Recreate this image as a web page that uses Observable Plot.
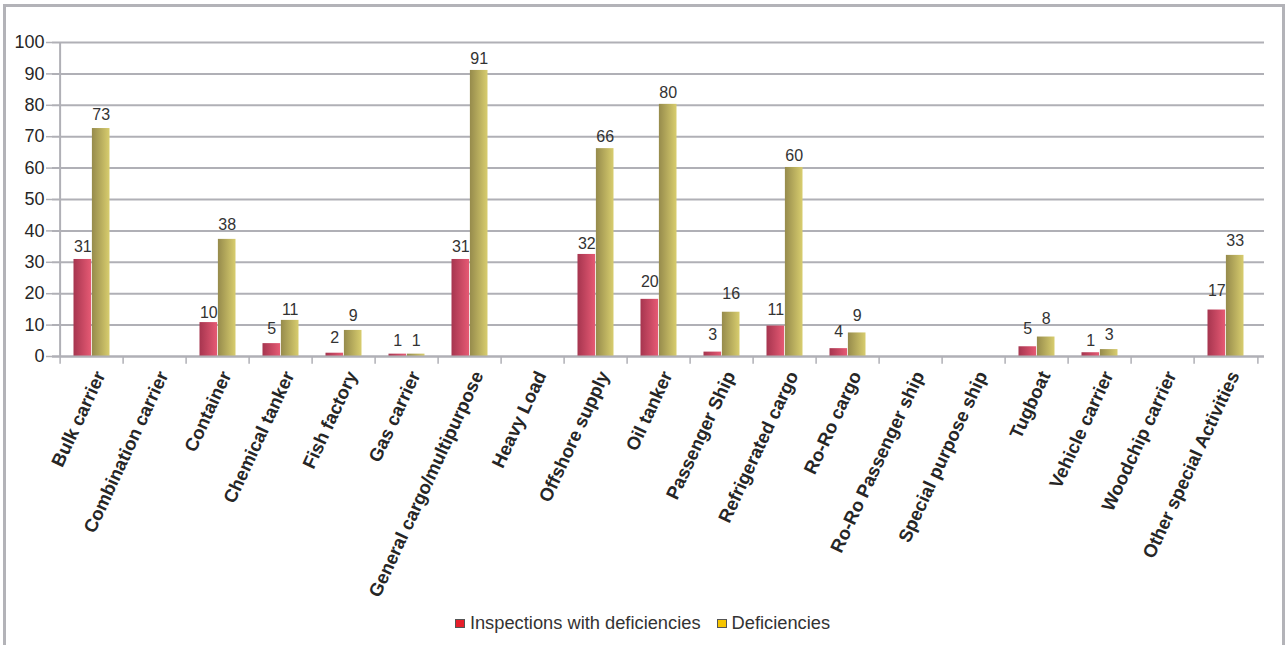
<!DOCTYPE html>
<html>
<head>
<meta charset="utf-8">
<script src="https://cdn.jsdelivr.net/npm/d3@7"></script>
<script src="https://cdn.jsdelivr.net/npm/@observablehq/plot@0.6"></script>
<style>
  html, body { margin: 0; padding: 0; background: #fff; }
  body { width: 1285px; height: 645px; position: relative; overflow: hidden; font-family: "Liberation Sans", Arial, sans-serif; }
  #frame { position: absolute; left: 3px; top: 4px; width: 1282px; height: 700px; box-sizing: border-box;
           border: 3px solid #b3b3b8; border-bottom: none; pointer-events: none; z-index: 2; }
  #chart { position: absolute; left: 0; top: 0; }
  #legend { position: absolute; left: 0; top: 613px; width: 1285px; display: flex; justify-content: center;
            align-items: center; font-size: 18.3px; line-height: 20px; color: #333; }
  .sw { width: 8px; height: 7px; border: 1px solid #555; margin-right: 5px; }
  .item { display: flex; align-items: center; }
</style>
</head>
<body>
<div id="chart"></div>
<div id="frame"></div>
<div id="legend"></div>
<script>
// ---- data ----
const categories = ["Bulk carrier","Combination carrier","Container","Chemical tanker","Fish factory","Gas carrier","General cargo/multipurpose","Heavy Load","Offshore supply","Oil tanker","Passenger Ship","Refrigerated cargo","Ro-Ro cargo","Ro-Ro Passenger ship","Special purpose ship","Tugboat","Vehicle carrier","Woodchip carrier","Other special Activities"];
// bar heights as drawn
const inspections  = [30.9, null, 10.8, 4.1, 1.05, 0.75, 30.9, null, 32.5, 18.2, 1.4, 9.7, 2.5, null, null, 3.1, 1.2, null, 14.8];
const deficiencies = [72.6, null, 37.3, 11.5, 8.3, 0.75, 91.1, null, 66.2, 80.3, 14.1, 60.2, 7.5, null, null, 6.2, 2.2, null, 32.2];
// data labels as printed
const inspectionLabels  = [31, null, 10, 5, 2, 1, 31, null, 32, 20, 3, 11, 4, null, null, 5, 1, null, 17];
const deficiencyLabels  = [73, null, 38, 11, 9, 1, 91, null, 66, 80, 16, 60, 9, null, null, 8, 3, null, 33];
const yTicks = [0, 10, 20, 30, 40, 50, 60, 70, 80, 90, 100];
const seriesNames = ["Inspections with deficiencies", "Deficiencies"];
const legendColors = ["#e61e2a", "#f5c400"];

// ---- layout ----
const W = 1285, H = 600;
const mL = 52, mR = 21, mT = 42, mB = 244;
const step = (W - mL - mR) / categories.length;
const barW = 18.4;
const outer = (step - 2 * barW) / 2;

const rows = categories.map((c, i) => ({
  type: c,
  insp: inspections[i], def: deficiencies[i],
  inspLabel: inspectionLabels[i], defLabel: deficiencyLabels[i]
}));

const gridColor = "#b0b0b6";
const textColor = "#262626";

const defs = () => {
  const d = d3.create("svg:defs");
  const g1 = d.append("linearGradient").attr("id", "gRed").attr("x1", 0).attr("x2", 1).attr("y1", 0).attr("y2", 0);
  g1.append("stop").attr("offset", "0%").attr("stop-color", "#a6354f");
  g1.append("stop").attr("offset", "100%").attr("stop-color", "#e65a74");
  const g2 = d.append("linearGradient").attr("id", "gOlive").attr("x1", 0).attr("x2", 1).attr("y1", 0).attr("y2", 0);
  g2.append("stop").attr("offset", "0%").attr("stop-color", "#968b4c");
  g2.append("stop").attr("offset", "100%").attr("stop-color", "#d8cd6e");
  return d.node();
};

const chart = Plot.plot({
  width: W, height: H,
  marginLeft: mL, marginRight: mR, marginTop: mT, marginBottom: mB,
  style: { background: "transparent", fontFamily: "'Liberation Sans', Arial, sans-serif" },
  x: { domain: categories, padding: 0, axis: null },
  y: { domain: [0, 100], axis: null },
  marks: [
    defs,
    Plot.ruleY(yTicks, { stroke: gridColor, strokeWidth: 2 }),
    Plot.axisY(yTicks, { tickSize: 6, tickPadding: 2, fontSize: 18, stroke: gridColor, strokeWidth: 1.5, fill: textColor, label: null }),
    Plot.ruleX([0], { x: () => categories[0], dx: -step / 2, y1: 0, y2: 100, stroke: gridColor, strokeWidth: 2 }),
    // bars
    Plot.barY(rows.filter(d => d.insp != null), { x: "type", y: "insp", insetLeft: outer, insetRight: outer + barW, fill: "url(#gRed)" }),
    Plot.barY(rows.filter(d => d.def != null), { x: "type", y: "def", insetLeft: outer + barW, insetRight: outer, fill: "url(#gOlive)" }),
    // x baseline and category boundary ticks
    Plot.ruleY([0], { stroke: gridColor, strokeWidth: 2 }),
    Plot.ruleX(categories, { x: d => d, dx: -step / 2, y1: 0, y2: -2.5, stroke: gridColor, strokeWidth: 1.5 }),
    Plot.ruleX(categories.slice(-1), { x: d => d, dx: step / 2, y1: 0, y2: -2.5, stroke: gridColor, strokeWidth: 1.5 }),
    // data labels
    Plot.text(rows.filter(d => d.inspLabel != null), { x: "type", y: "inspLabel", text: "inspLabel", dx: -barW / 2, dy: -7, lineAnchor: "bottom", fontSize: 16, fill: "#333" }),
    Plot.text(rows.filter(d => d.defLabel != null), { x: "type", y: "defLabel", text: "defLabel", dx: barW / 2, dy: -7, lineAnchor: "bottom", fontSize: 16, fill: "#333" }),
    // category labels
    Plot.text(categories, { x: d => d, y: 0, text: d => d, rotate: -65, textAnchor: "end", lineAnchor: "middle", dx: 8.4, dy: 16, fontSize: 18.5, fontWeight: "bold", fill: textColor })
  ]
});
document.getElementById("chart").appendChild(chart);

// legend
const legend = document.getElementById("legend");
seriesNames.forEach((name, i) => {
  const item = document.createElement("div");
  item.className = "item";
  if (i > 0) item.style.marginLeft = "16px";
  const sw = document.createElement("div");
  sw.className = "sw";
  sw.style.background = legendColors[i];
  const t = document.createElement("span");
  t.textContent = name;
  item.appendChild(sw); item.appendChild(t);
  legend.appendChild(item);
});
</script>
</body>
</html>
